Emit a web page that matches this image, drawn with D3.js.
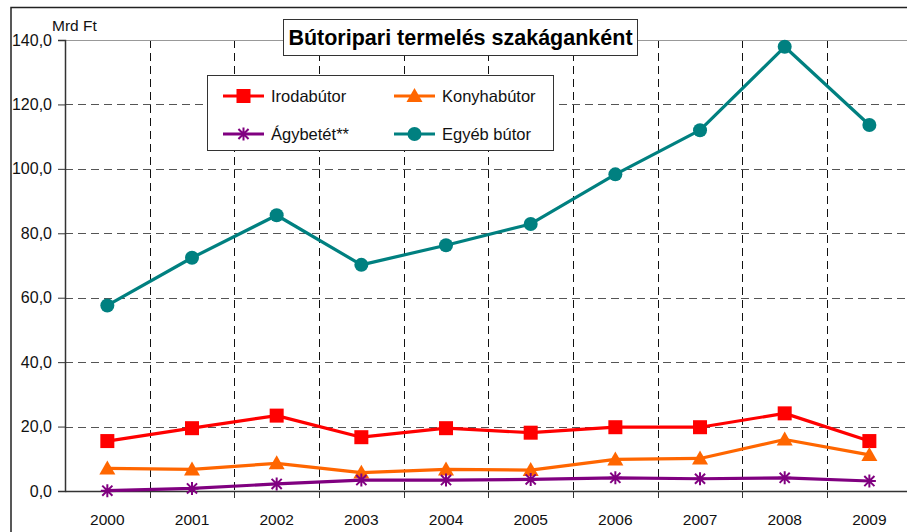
<!DOCTYPE html>
<html><head><meta charset="utf-8">
<script src="https://cdn.jsdelivr.net/npm/d3@7"></script>
<style>
html,body{margin:0;padding:0;background:#fff;}
svg{display:block;font-family:"Liberation Sans",Arial,sans-serif;}
</style></head>
<body>
<svg id="c" width="907" height="532"></svg>
<script>
const years = ["2000","2001","2002","2003","2004","2005","2006","2007","2008","2009"];
const irodabutor = [15.5,19.5,23.4,16.7,19.5,18.1,19.8,19.8,24.1,15.5];
const konyhabutor = [7.0,6.7,8.6,5.7,6.7,6.5,9.8,10.1,16.0,11.2];
const agybetet = [0.1,0.8,2.2,3.4,3.4,3.6,4.1,3.8,4.1,3.1];
const egyebButor = [57.6,72.4,85.6,70.2,76.3,82.9,98.3,112.0,137.9,113.6];
const yTicks = [0,20,40,60,80,100,120,140];
const seriesNames = ["Irodabútor","Konyhabútor","Ágybetét**","Egyéb bútor"];
const titleText = "Bútoripari termelés szakáganként";
const unitLabel = "Mrd Ft";

const series = [
  {name:seriesNames[0], values:irodabutor, color:"#FF0000", marker:"square"},
  {name:seriesNames[1], values:konyhabutor, color:"#FF6600", marker:"triangle"},
  {name:seriesNames[2], values:agybetet, color:"#800080", marker:"star"},
  {name:seriesNames[3], values:egyebButor, color:"#008080", marker:"circle"}
];

const svg = d3.select("#c");
const L = 65, T = 40, B = 491, R = 65 + 10*84.67;
const x = d3.scaleBand().domain(years).range([L, R]).padding(0);
const xc = d => x(d) + x.bandwidth()/2;
const y = d3.scaleLinear().domain([0,140]).range([B, T]);

// outer frame
svg.append("rect").attr("x",11).attr("y",7.5).attr("width",1000).attr("height",600)
  .attr("fill","none").attr("stroke","#222").attr("stroke-width",1.5);

// horizontal grid
svg.append("g").selectAll("line").data(yTicks.filter(d=>d>0 && d<140)).join("line")
  .attr("x1",L).attr("x2",R).attr("y1",d=>Math.round(y(d))+0.5).attr("y2",d=>Math.round(y(d))+0.5)
  .attr("stroke","#555").attr("stroke-width",1).attr("stroke-dasharray","8,5");
// vertical grid (category boundaries)
svg.append("g").selectAll("line").data(years.slice(1)).join("line")
  .attr("x1",d=>Math.round(x(d))+0.5).attr("x2",d=>Math.round(x(d))+0.5)
  .attr("y1",T).attr("y2",B)
  .attr("stroke","#111").attr("stroke-width",1).attr("stroke-dasharray","8,5");

// plot top border
svg.append("line").attr("x1",L).attr("x2",R).attr("y1",T+0.5).attr("y2",T+0.5)
  .attr("stroke","#999").attr("stroke-width",1.2);

// y axis
const yAxis = d3.axisLeft(y).tickValues(yTicks).tickSize(7).tickPadding(6)
  .tickFormat(d => d3.format(".1f")(d).replace(".",","));
const gy = svg.append("g").attr("transform",`translate(${L},0)`).call(yAxis);
gy.attr("font-size",null).attr("font-family",null);
gy.select(".domain").attr("stroke","#333").attr("stroke-width",1.5);
gy.selectAll(".tick line").attr("stroke","#333");
gy.selectAll("text").style("font-size","16px").attr("fill","#111");

// x axis
const xAxis = d3.axisBottom(x).tickSize(0).tickPadding(23);
const gx = svg.append("g").attr("transform",`translate(0,${B})`).call(xAxis);
gx.attr("font-size",null).attr("font-family",null);
gx.select(".domain").attr("stroke","#333").attr("stroke-width",1.5);
gx.selectAll("text").style("font-size","15.5px").attr("fill","#111");
// tick marks at category boundaries
svg.append("g").selectAll("line").data(years.slice(1)).join("line")
  .attr("x1",d=>Math.round(x(d))+0.5).attr("x2",d=>Math.round(x(d))+0.5)
  .attr("y1",B).attr("y2",B+7).attr("stroke","#333").attr("stroke-width",1);

// unit label
svg.append("text").attr("x",52).attr("y",31).text(unitLabel)
  .style("font-size","15.5px").attr("fill","#111");

// markers
function drawMarker(g, type, color, cx, cy, s) {
  if (type==="square") {
    g.append("rect").attr("x",cx-s/2).attr("y",cy-s/2).attr("width",s).attr("height",s).attr("fill",color);
  } else if (type==="triangle") {
    const h = s*0.95;
    g.append("path").attr("d",`M${cx},${cy-h*0.6}L${cx+s/2+1},${cy+h*0.45}L${cx-s/2-1},${cy+h*0.45}Z`).attr("fill",color);
  } else if (type==="circle") {
    g.append("circle").attr("cx",cx).attr("cy",cy).attr("r",s/2).attr("fill",color);
  } else if (type==="star") {
    const r = s/2;
    const p = [];
    p.push(`M${cx-r},${cy}L${cx+r},${cy}`);
    p.push(`M${cx},${cy-r}L${cx},${cy+r}`);
    const d = r*0.78;
    p.push(`M${cx-d},${cy-d}L${cx+d},${cy+d}`);
    p.push(`M${cx-d},${cy+d}L${cx+d},${cy-d}`);
    g.append("path").attr("d",p.join("")).attr("stroke",color).attr("stroke-width",2).attr("fill","none");
  }
}

const line = d3.line().x((d,i)=>xc(years[i])).y(d=>y(d));
const gs = svg.append("g");
series.forEach(s => {
  gs.append("path").datum(s.values).attr("d",line).attr("fill","none")
    .attr("stroke",s.color).attr("stroke-width",3.2).attr("stroke-linejoin","round");
  const gm = gs.append("g");
  s.values.forEach((v,i) => drawMarker(gm, s.marker, s.color, xc(years[i]), y(v), s.marker==="star"?13:14));
});

// title box
const tg = svg.append("g");
tg.append("rect").attr("x",283.5).attr("y",19.5).attr("width",354).attr("height",36)
  .attr("fill","#fff").attr("stroke","#333").attr("stroke-width",1);
tg.append("text").attr("x",460.5).attr("y",45).attr("text-anchor","middle")
  .style("font-size","21.5px").attr("font-weight","bold").attr("fill","#000").text(titleText);

// legend
const lg = svg.append("g");
lg.append("rect").attr("x",207.5).attr("y",75.5).attr("width",346).attr("height",75)
  .attr("fill","#fff").attr("stroke","#333").attr("stroke-width",1);
const legPos = [[223,96],[394,96],[223,134],[394,134]];
series.forEach((s,i) => {
  const [lx,ly] = legPos[i];
  lg.append("line").attr("x1",lx).attr("x2",lx+41).attr("y1",ly).attr("y2",ly)
    .attr("stroke",s.color).attr("stroke-width",3.2);
  drawMarker(lg, s.marker, s.color, lx+20.5, ly, s.marker==="star"?13:14);
  lg.append("text").attr("x",lx+48).attr("y",ly+6).style("font-size","16.5px").attr("fill","#111").text(s.name);
});
</script>
</body></html>
